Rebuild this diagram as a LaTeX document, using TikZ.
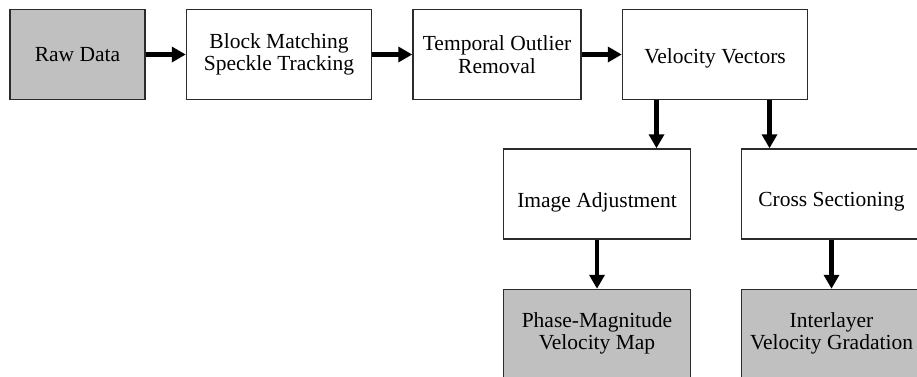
\documentclass[tikz,border=0pt]{standalone}
\usepackage{fontspec}
\setmainfont{Liberation Serif}
\usetikzlibrary{arrows.meta,positioning}
\definecolor{boxgray}{HTML}{C0C0C0}
\definecolor{edge}{HTML}{2B2B2B}

\begin{document}
\begin{tikzpicture}[x=1pt, y=1pt,
  stage/.style={rectangle, draw=edge, line width=1.5pt, fill=white,
                minimum width=185pt, minimum height=90pt, align=center,
                inner sep=1pt, font=\fontsize{21.5}{22.5}\selectfont},
  io/.style={stage, fill=boxgray},
  lowered/.style={text height=#1, text depth=0pt},
  flow/.style={-{Triangle[length=14pt, width=15pt]}, line width=4.5pt},
]
  \useasboundingbox (0,0) rectangle (917,-376);
  \node[io, minimum width=135pt] (raw) at (77.5,-54.5) {Raw Data};
  \node[stage, right=40pt of raw] (bmst) {Block Matching\\Speckle Tracking};
  \node[stage, minimum width=168pt, right=40pt of bmst] (tor) {Temporal Outlier\\Removal};
  \node[stage, lowered=18pt, right=40pt of tor] (vel) {Velocity Vectors};
  \node[stage, lowered=26pt, minimum width=187pt, below=48pt of vel, xshift=-118pt] (imgadj) {Image Adjustment};
  \node[stage, lowered=24pt, minimum width=180pt, below=48pt of vel, xshift=116.5pt] (cross) {Cross Sectioning};
  \node[io, minimum width=187pt, minimum height=88pt, below=49pt of imgadj] (pmvm) {Phase-Magnitude\\Velocity Map};
  \node[io, minimum width=180pt, minimum height=88pt, below=49pt of cross] (ivg) {Interlayer\\Velocity Gradation};
  \draw[flow] (raw) -- (bmst);
  \draw[flow] (bmst) -- (tor);
  \draw[flow] (tor) -- (vel);
  \draw[flow] ([xshift=-58.5pt]vel.south) -- ([xshift=-58.5pt]vel.south |- imgadj.north);
  \draw[flow] ([xshift=54.5pt]vel.south) -- ([xshift=54.5pt]vel.south |- cross.north);
  \draw[flow] (imgadj) -- (pmvm);
  \draw[flow] (cross) -- (ivg);
\end{tikzpicture}
\end{document}
